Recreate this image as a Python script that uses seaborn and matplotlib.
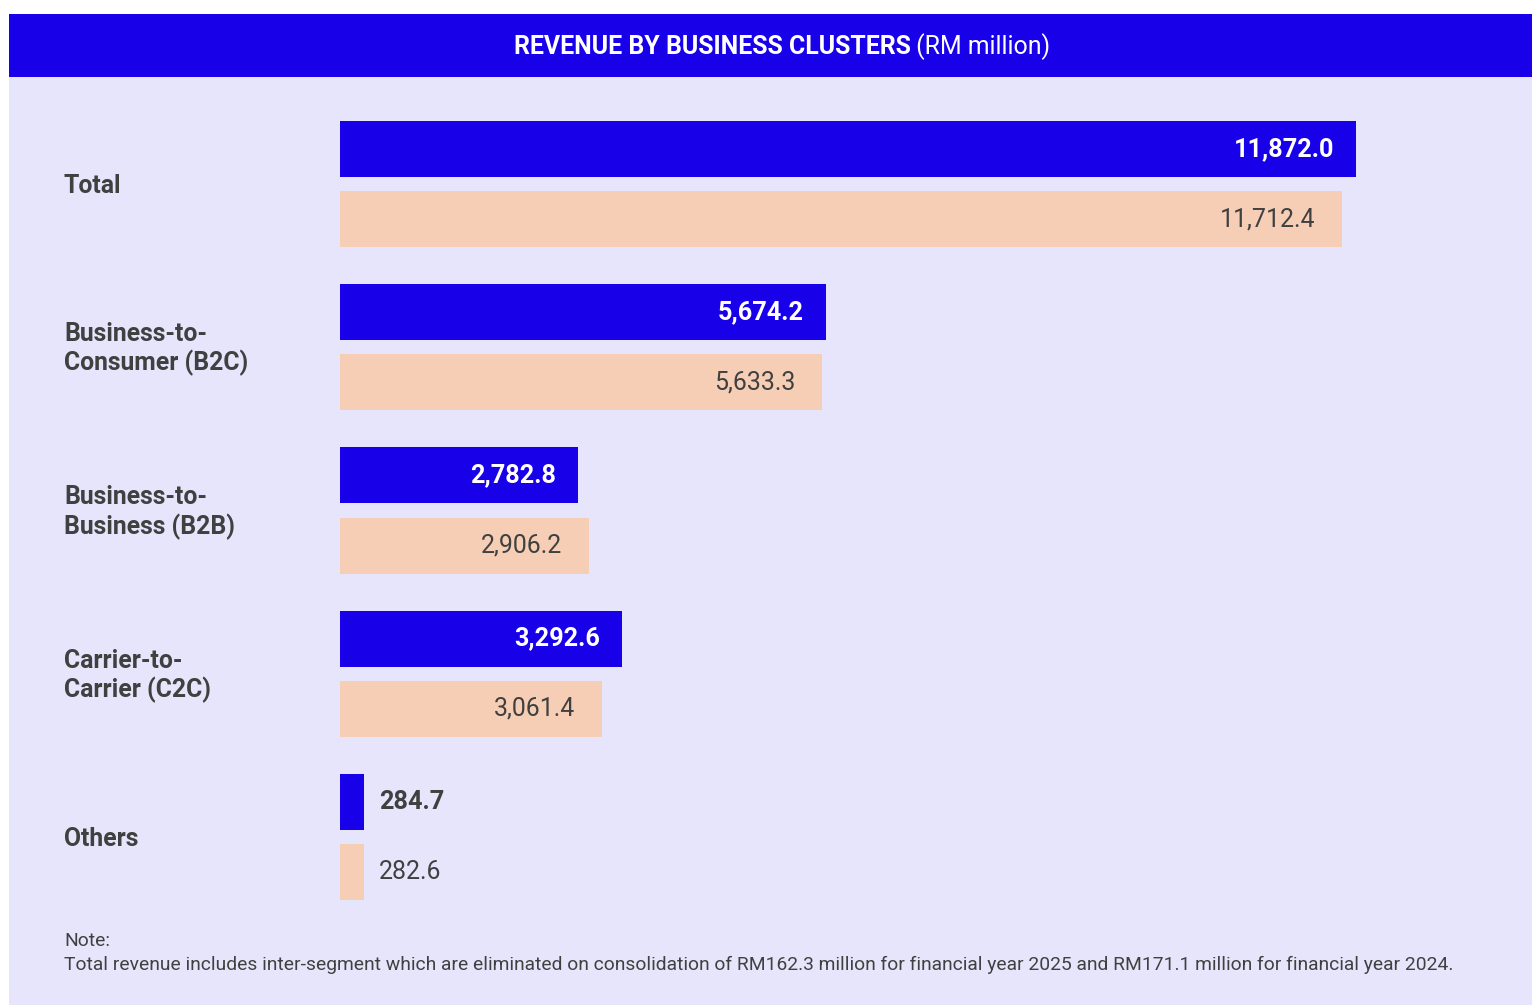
import pandas as pd
import matplotlib.pyplot as plt
import seaborn as sns
from matplotlib.patches import Rectangle

# Dane
clusters = ['Total', 'Business-to-\nConsumer (B2C)', 'Business-to-\nBusiness (B2B)',
            'Carrier-to-\nCarrier (C2C)', 'Others']
fy2025 = [11872.0, 5674.2, 2782.8, 3292.6, 284.7]
fy2024 = [11712.4, 5633.3, 2906.2, 3061.4, 282.6]
years = ['FY2025', 'FY2024']

title_bold = 'REVENUE BY BUSINESS CLUSTERS'
title_rest = ' (RM million)'
note_lines = ['Note:',
              'Total revenue includes inter-segment which are eliminated on consolidation of '
              'RM162.3 million for financial year 2025 and RM171.1 million for financial year 2024.']

BLUE = '#1800E8'
PEACH = '#F6CEB5'
LAVENDER = '#E7E5FB'
DARK = '#404040'

df = pd.DataFrame({
    'cluster': clusters * 2,
    'year': [years[0]] * len(clusters) + [years[1]] * len(clusters),
    'value': fy2025 + fy2024,
})

sns.set_theme(style='white')
plt.rcParams['font.family'] = ['Roboto', 'DejaVu Sans']

W, H = 1532, 1005
fig = plt.figure(figsize=(W / 100, H / 100), dpi=100)
fig.patch.set_facecolor('white')

# Tło panelu i pasek tytułu
fig.add_artist(Rectangle((9 / W, 0), (W - 9) / W, (H - 77) / H,
                         transform=fig.transFigure, facecolor=LAVENDER, edgecolor='none', zorder=0))
fig.add_artist(Rectangle((9 / W, (H - 77) / H), (W - 9) / W, 63 / H,
                         transform=fig.transFigure, facecolor=BLUE, edgecolor='none', zorder=0))

ax = fig.add_axes([340 / W, (H - 918.6) / H, (W - 340) / W, 816.2 / H])
ax.set_facecolor('none')

sns.barplot(data=df, y='cluster', x='value', hue='year', hue_order=years,
            palette=[BLUE, PEACH], orient='h', width=0.859, gap=0.2,
            saturation=1, linewidth=0, legend=False, ax=ax)

ax.set_xlim(0, 13930)
ax.set_ylim(4.5, -0.5)
ax.set_xlabel('')
ax.set_ylabel('')
ax.set_xticks([])
ax.set_yticks([])
for s in ax.spines.values():
    s.set_visible(False)

# Etykiety wartości
for i, cont in enumerate(ax.containers):
    vals = fy2025 if i == 0 else fy2024
    weight = 'bold' if i == 0 else 'normal'
    size = 18.2 if i == 0 else 17.9
    for bar, v in zip(cont, vals):
        y = bar.get_y() + bar.get_height() / 2
        w = bar.get_width()
        txt = f'{v:,.1f}'
        if w > 1500:
            color = 'white' if i == 0 else DARK
            off = -22 if i == 0 else -27
            ax.annotate(txt, (w, y), xytext=(off, 0), textcoords='offset pixels',
                        ha='right', va='center', fontsize=size, color=color, fontweight=weight)
        else:
            ax.annotate(txt, (w, y), xytext=(15, 0), textcoords='offset pixels',
                        ha='left', va='center', fontsize=size, color=DARK, fontweight=weight)

# Nazwy kategorii
for i, name in enumerate(clusters):
    y_px = ax.transData.transform((0, i))[1] - 2
    fig.text(64 / W, y_px / H, name, ha='left', va='center', fontsize=17.8,
             fontweight='bold', color=DARK, linespacing=1.2)

# Tytuł
t1 = fig.text(0.5, (H - 47) / H, title_bold, ha='left', va='center', fontsize=17.9,
              fontweight='bold', color='white')
t2 = fig.text(0.5, (H - 47) / H, title_rest, ha='left', va='center', fontsize=17.9, color='white')
fig.canvas.draw()
r = fig.canvas.get_renderer()
w1 = t1.get_window_extent(r).width
w2 = t2.get_window_extent(r).width
x0 = 782 - (w1 + w2) / 2
t1.set_x(x0 / W)
t2.set_x((x0 + w1) / W)

# Przypis
fig.text(64 / W, (H - 941) / H, note_lines[0], ha='left', va='center', fontsize=13.9, color=DARK)
fig.text(64 / W, (H - 965) / H, note_lines[1], ha='left', va='center', fontsize=13.9, color=DARK)

fig.savefig('out.png', dpi=100, facecolor='white')
